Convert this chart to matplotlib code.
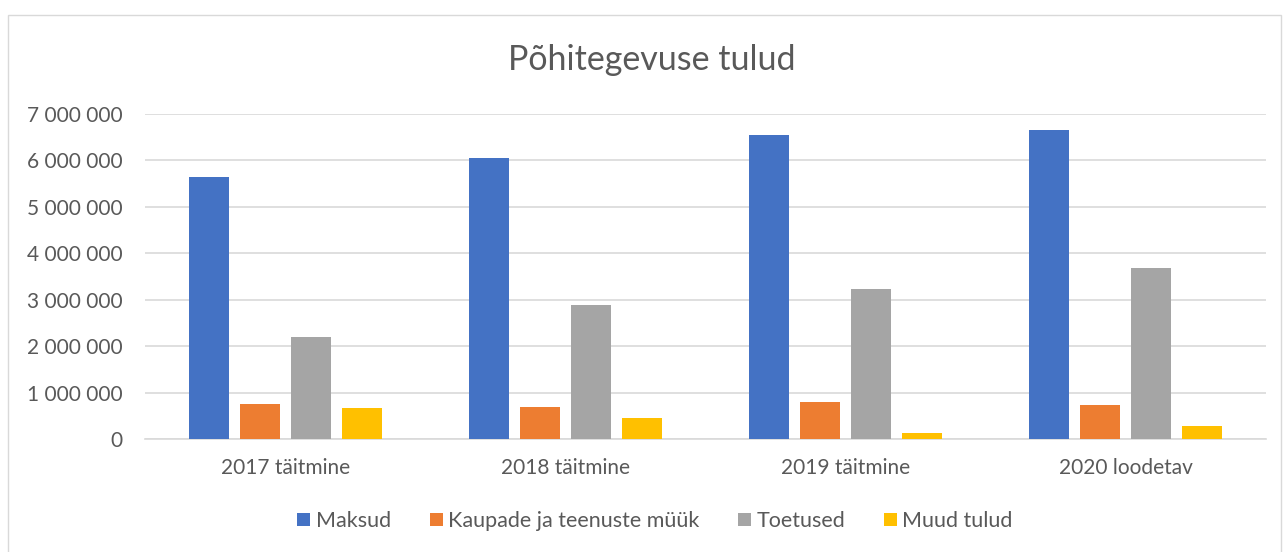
import matplotlib
matplotlib.use('Agg')
import matplotlib.pyplot as plt
import numpy as np
from matplotlib.patches import Rectangle
from matplotlib.ticker import FuncFormatter

plt.rcParams['font.family'] = ['Lato', 'DejaVu Sans']

# andmed
categories = ['2017 täitmine', '2018 täitmine', '2019 täitmine', '2020 loodetav']
series_names = ['Maksud', 'Kaupade ja teenuste müük', 'Toetused', 'Muud tulud']
maksud = [5640000, 6060000, 6540000, 6650000]
kaupade = [760000, 690000, 800000, 730000]
toetused = [2200000, 2880000, 3230000, 3690000]
muud = [670000, 460000, 130000, 270000]
colors = ['#4472C4', '#ED7D31', '#A5A5A5', '#FFC000']

W, H = 1286, 552
fig = plt.figure(figsize=(W / 100, H / 100), dpi=100)

# diagrammi raam
fig.patches.append(Rectangle((8 / W, -0.01), (1281 - 8) / W, (H - 15) / H + 0.01,
                             transform=fig.transFigure, fill=False,
                             edgecolor='#D9D9D9', linewidth=1))

ax = fig.add_axes([145 / W, (H - 439) / H, (1266 - 145) / W, (439 - 114) / H])

x = np.arange(len(categories))
bw = 40 / 280
step = 51 / 280
all_series = [maksud, kaupade, toetused, muud]
for i, (vals, name, c) in enumerate(zip(all_series, series_names, colors)):
    ax.bar(x + (i - 1.5) * step, vals, width=bw, color=c, label=name, zorder=3)

ax.set_xlim(-0.5, len(categories) - 0.5)
ax.set_ylim(0, 7000000)
ax.set_yticks(np.arange(0, 7000001, 1000000))
ax.yaxis.set_major_formatter(FuncFormatter(lambda v, p: f'{int(v):,}'.replace(',', ' ')))
ax.grid(axis='y', color='#D9D9D9', linewidth=1.2, zorder=0)
for s in ['top', 'right', 'left']:
    ax.spines[s].set_visible(False)
ax.spines['bottom'].set_color('#D9D9D9')
ax.spines['bottom'].set_linewidth(1.2)
ax.tick_params(axis='both', length=0, labelsize=15, labelcolor='#595959')
ax.tick_params(axis='y', pad=16)
ax.tick_params(axis='x', pad=14)
ax.set_xticks(x)
ax.set_xticklabels(categories)

fig.text(652 / W, 1 - 60 / H, 'Põhitegevuse tulud', ha='center', va='center',
         fontsize=24.5, color='#595959')

fig.legend(loc='center', bbox_to_anchor=(655 / W, 1 - 521 / H), ncol=4, frameon=False,
           fontsize=15.5, labelcolor='#595959', handlelength=0.6, handleheight=0.6,
           handletextpad=0.25, columnspacing=1.8)

fig.savefig('out.png', dpi=100)
